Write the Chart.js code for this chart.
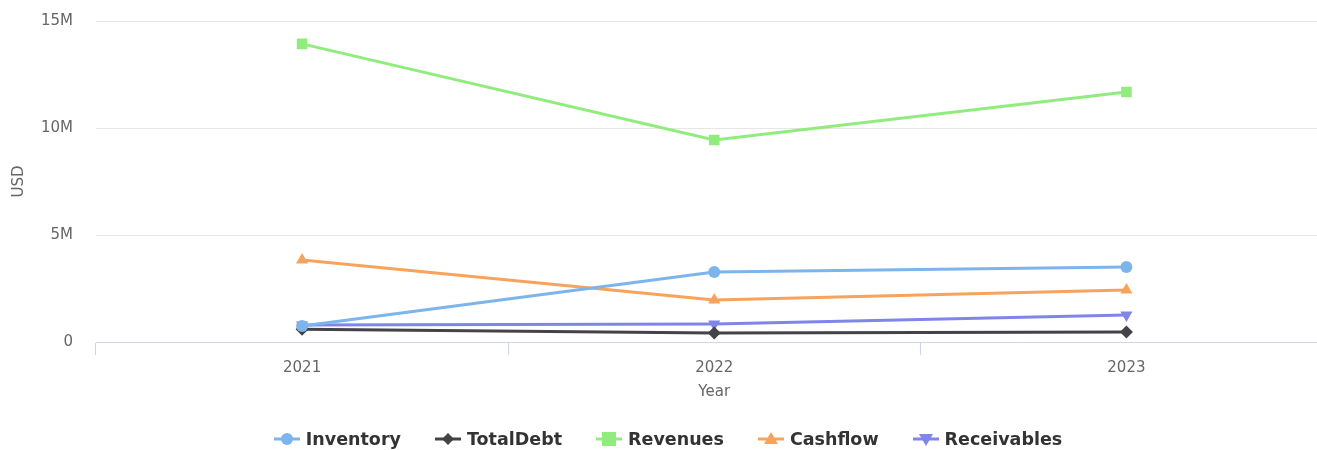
<!DOCTYPE html>
<html>
<head>
<meta charset="utf-8">
<script src="https://cdn.jsdelivr.net/npm/chart.js@4"></script>
<style>
  html, body { margin: 0; padding: 0; background: #fff; overflow: hidden; }
  #wrap { position: relative; width: 1340px; height: 450px; }
  #legend { position: absolute; left: 0; width: 1336px; top: 429px; display: flex; justify-content: center; gap: 34px;
    font-family: "DejaVu Sans", sans-serif; font-weight: bold; font-size: 17.5px; color: #333; }
  .item { display: flex; align-items: center; gap: 6px; }
</style>
</head>
<body>
<div id="wrap">
  <canvas id="chart" width="1340" height="450"></canvas>
  <div id="legend"></div>
</div>
<script>
const years = ["2021", "2022", "2023"];
const inventory = [0.75e6, 3.27e6, 3.50e6];
const totalDebt = [0.60e6, 0.42e6, 0.47e6];
const revenues = [13.93e6, 9.44e6, 11.68e6];
const cashflow = [3.83e6, 1.96e6, 2.43e6];
const receivables = [0.79e6, 0.84e6, 1.26e6];
const yTicks = [0, 5e6, 10e6, 15e6];

const font = "'DejaVu Sans', sans-serif";

const series = [
  { label: "Inventory", data: inventory, color: "#7cb5ec", style: "circle", rot: 0, r: 6 },
  { label: "TotalDebt", data: totalDebt, color: "#434348", style: "rectRot", rot: 0, r: 6.5 },
  { label: "Revenues", data: revenues, color: "#90ed7d", style: "rect", rot: 0, r: 7.5 },
  { label: "Cashflow", data: cashflow, color: "#f7a35c", style: "triangle", rot: 0, r: 7 },
  { label: "Receivables", data: receivables, color: "#8085e9", style: "triangle", rot: 180, r: 7 }
];

new Chart(document.getElementById("chart"), {
  type: "line",
  data: {
    labels: years,
    datasets: series.map(s => ({
      label: s.label,
      data: s.data,
      borderColor: s.color,
      backgroundColor: s.color,
      borderWidth: 3,
      pointStyle: s.style,
      pointRotation: s.rot,
      pointRadius: s.r,
      pointBorderWidth: 0,
      tension: 0
    }))
  },
  options: {
    responsive: false,
    animation: false,
    layout: { padding: { top: 21, left: 0, right: 0, bottom: 44 } },
    plugins: { legend: { display: false }, tooltip: { enabled: false } },
    scales: {
      x: {
        offset: true,
        grid: { offset: true, drawOnChartArea: false, drawTicks: true, tickLength: 13, color: "#ccd6eb" },
        border: { color: "#ccd6eb", width: 1 },
        ticks: { color: "#666", font: { family: font, size: 15 }, padding: 4 },
        title: { display: true, text: "Year", color: "#666", font: { family: font, size: 15 }, padding: { top: 2, bottom: 5 } },
        afterFit: s => { s.height = 64; }
      },
      y: {
        min: 0, max: 15e6,
        afterBuildTicks: s => { s.ticks = yTicks.map(v => ({ value: v })); },
        grid: { color: "#e6e6e6", drawTicks: true, tickLength: 20, tickColor: "rgba(0,0,0,0)" },
        border: { display: false },
        ticks: { color: "#666", font: { family: font, size: 15 }, padding: 3,
          callback: v => v === 0 ? "0" : (v / 1e6) + "M" },
        title: { display: true, text: "USD", color: "#666", font: { family: font, size: 15 }, padding: { top: 10, bottom: 0 } },
        afterFit: s => { s.width = 96; }
      }
    }
  }
});

const shapes = {
  circle: '<circle cx="13" cy="8" r="6"/>',
  rectRot: '<polygon points="13,2 19,8 13,14 7,8"/>',
  rect: '<rect x="6" y="1" width="14" height="14"/>',
  triangle: '<polygon points="13,1 20,13 6,13"/>',
  triangleDown: '<polygon points="13,15 20,3 6,3"/>'
};
document.getElementById("legend").innerHTML = series.map(s => {
  const shape = s.rot === 180 ? shapes.triangleDown : shapes[s.style];
  return `<div class="item"><svg width="26" height="16"><line x1="0" y1="8" x2="26" y2="8" stroke="${s.color}" stroke-width="3"/><g fill="${s.color}">${shape}</g></svg><span>${s.label}</span></div>`;
}).join("");
</script>
</body>
</html>
